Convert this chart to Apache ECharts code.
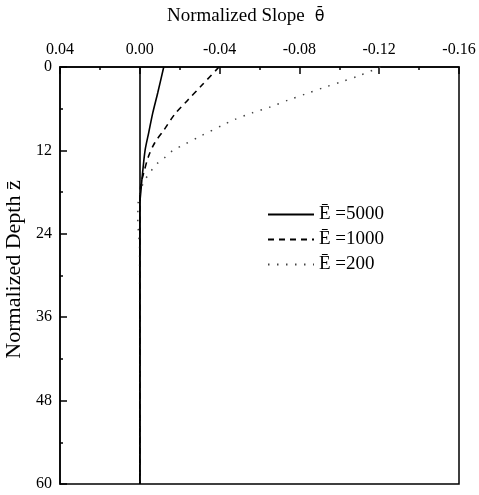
<!DOCTYPE html>
<html>
<head>
<meta charset="utf-8">
<script src="https://cdn.jsdelivr.net/npm/echarts@6/dist/echarts.min.js"></script>
<style>html,body{margin:0;padding:0;background:#fff}#c{width:479px;height:495px}</style>
</head>
<body>
<div id="c"></div>
<script>
// Data (theta vs depth z)
var solidZ     = [0, 3.7, 6.6, 9.4, 11.9, 15.2, 17.7, 20, 60];
var solidTheta = [-0.0120, -0.0090, -0.0065, -0.0045, -0.0027, -0.0014, -0.0006, 0, 0];

var dashZ      = [0, 2.6, 4.75, 6.76, 9.07, 10.9, 12.9, 15.2, 17, 20, 60];
var dashTheta  = [-0.0397, -0.0312, -0.0241, -0.0176, -0.0121, -0.0075, -0.0043, -0.0020, -0.0005, 0, 0];

var dotZ       = [0, 1.3, 2.16, 3.0, 3.9, 4.75, 5.76, 6.6, 7.6, 8.3, 10, 11.1, 12, 13, 14, 15.3, 16.5, 18, 19.5, 22, 24, 26, 60];
var dotTheta   = [-0.1206, -0.1095, -0.1008, -0.0918, -0.0829, -0.0745, -0.0653, -0.0563, -0.0472, -0.0420, -0.0300, -0.0226, -0.0166, -0.0126, -0.0083, -0.0048, -0.0020, -0.0003, 0.0008, 0.0010, 0.0006, 0.0001, 0];

var legendNames = ['\u0112 =5000', '\u0112 =1000', '\u0112 =200'];
var xTitleWords = 'Normalized Slope';
var xTitleSym = '\u03b8\u0304';
var yTitle = 'Normalized Depth z\u0304';

function pairs(t, z) { return t.map(function (v, i) { return [v, z[i]]; }); }

var chart = echarts.init(document.getElementById('c'), null, {renderer: 'canvas'});
var serif = '"Liberation Serif", "Times New Roman", serif';
chart.setOption({
  animation: false,
  backgroundColor: '#fff',
  title: {
    text: '{a|' + xTitleWords + '}  {b|' + xTitleSym + '}', left: 162, top: 2,
    textStyle: {
      fontWeight: 'normal',
      rich: {
        a: {fontFamily: serif, fontSize: 19, fontWeight: 'normal', color: '#000'},
        b: {fontFamily: '"DejaVu Sans", sans-serif', fontSize: 16, fontWeight: 'normal', color: '#000'}
      }
    }
  },
  grid: {left: 60, right: 20, top: 67, bottom: 11, outerBoundsMode: 'none', containLabel: false,
    show: true, borderColor: '#000', borderWidth: 1.5, backgroundColor: 'transparent'},
  legend: {
    orient: 'vertical', left: 262, top: 200, itemWidth: 46, itemHeight: 10, itemGap: 6,
    data: legendNames,
    itemStyle: {opacity: 0},
    textStyle: {fontFamily: serif, fontSize: 19, color: '#000'}
  },
  xAxis: {
    type: 'value', position: 'top', inverse: true, min: -0.16, max: 0.04, interval: 0.04,
    axisLine: {show: true, onZero: false, lineStyle: {color: '#000', width: 1.5}},
    axisTick: {show: true, inside: true, length: 7, lineStyle: {color: '#000', width: 1.5}},
    minorTick: {show: true, splitNumber: 2, length: 3, lineStyle: {color: '#000', width: 1.5}},
    splitLine: {show: false},
    axisLabel: {
      margin: 9, color: '#000', fontFamily: serif, fontSize: 16,
      formatter: function (v) { return Math.abs(v) < 1e-9 ? '0.00' : v.toFixed(2); }
    }
  },
  yAxis: {
    type: 'value', inverse: true, min: 0, max: 60, interval: 12,
    name: yTitle, nameLocation: 'middle', nameGap: 24, nameRotate: 90,
    nameTextStyle: {fontFamily: serif, fontSize: 22, color: '#000', padding: [0, 0, 0, 12]},
    axisLine: {show: true, onZero: false, lineStyle: {color: '#000', width: 1.5}},
    axisTick: {show: true, inside: true, length: 7, lineStyle: {color: '#000', width: 1.5}},
    minorTick: {show: true, splitNumber: 2, length: 3, lineStyle: {color: '#000', width: 1.5}},
    splitLine: {show: false},
    axisLabel: {margin: 8, color: '#000', fontFamily: serif, fontSize: 16}
  },
  series: [
    {
      name: legendNames[0], type: 'line', data: pairs(solidTheta, solidZ), smooth: 0.3,
      symbol: 'none', lineStyle: {color: '#000', width: 1.6, type: 'solid'}, itemStyle: {color: '#000'},
      markLine: {silent: true, symbol: 'none', label: {show: false},
        lineStyle: {color: '#000', width: 1.6, type: 'solid'}, data: [{xAxis: 0}]}
    },
    {
      name: legendNames[1], type: 'line', data: pairs(dashTheta, dashZ), smooth: 0.3,
      symbol: 'none', lineStyle: {color: '#000', width: 1.6, type: [6, 5]}, itemStyle: {color: '#000'}
    },
    {
      name: legendNames[2], type: 'line', data: pairs(dotTheta, dotZ), smooth: 0.3,
      symbol: 'none', lineStyle: {color: '#444', width: 1.5, type: [1.5, 7.5]}, itemStyle: {color: '#444'}
    }
  ]
});
</script>
</body>
</html>
